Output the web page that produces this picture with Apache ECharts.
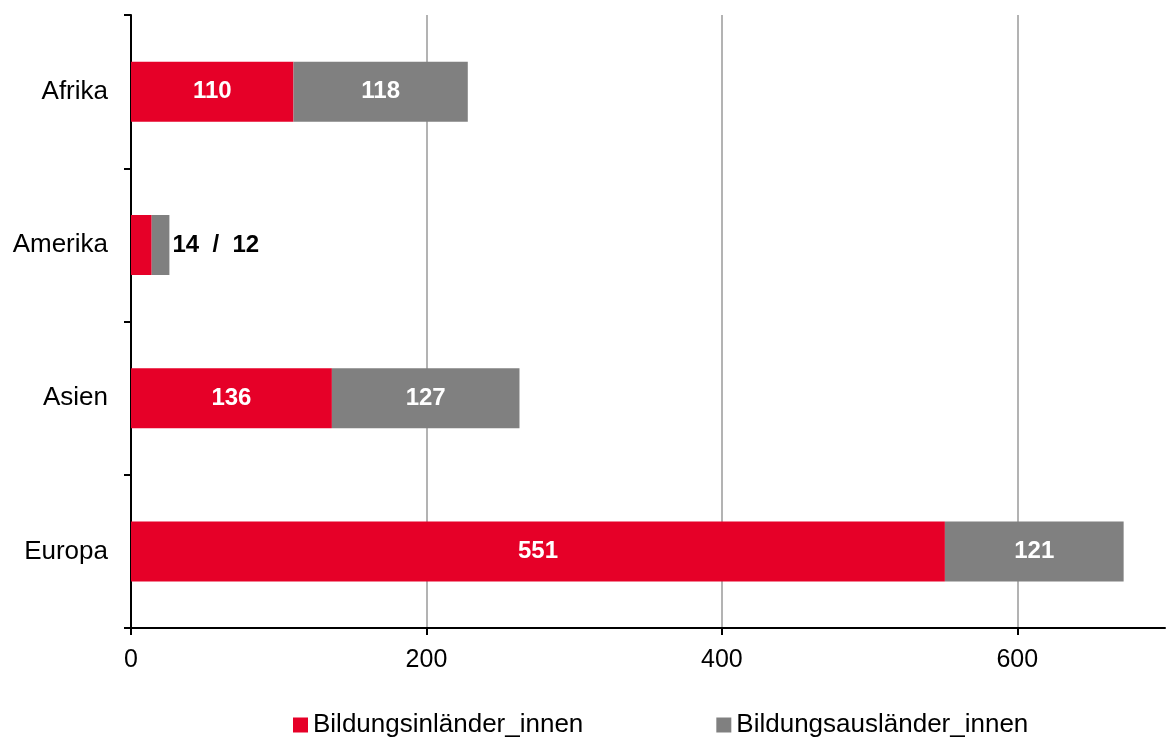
<!DOCTYPE html>
<html>
<head>
<meta charset="utf-8">
<script src="https://cdn.jsdelivr.net/npm/echarts@6/dist/echarts.min.js"></script>
<style>
  html, body { margin: 0; padding: 0; background: #fff; }
  #chart { width: 1167px; height: 738px; }
</style>
</head>
<body>
<div id="chart"></div>
<script>
const regions = ['Afrika', 'Amerika', 'Asien', 'Europa'];
const inlaender = [110, 14, 136, 551];
const auslaender = [118, 12, 127, 121];
const xTicks = [0, 200, 400, 600];

const chart = echarts.init(document.getElementById('chart'));
const font = 'Liberation Sans, Arial, sans-serif';

// Amerika is too narrow for inside labels: one combined label to the right
const smallIdx = 1;

const insideLabel = {
  show: true,
  position: 'inside',
  color: '#fff',
  fontWeight: 'bold',
  fontSize: 24,
  fontFamily: font
};

const option = {
  animation: false,
  grid: { left: 131, right: 2, top: 15, bottom: 110, containLabel: false },
  legend: {
    left: 288,
    top: 707,
    icon: 'rect',
    itemWidth: 15,
    itemHeight: 15,
    itemGap: 133,
    textStyle: { fontSize: 26, color: '#000', fontFamily: font },
    data: ['Bildungsinländer_innen', 'Bildungsausländer_innen']
  },
  xAxis: {
    type: 'value',
    min: 0,
    max: 700,
    interval: 200,
    axisLine: { show: true, lineStyle: { color: '#000', width: 2 } },
    axisTick: { show: true, length: 7, customValues: xTicks, lineStyle: { color: '#000', width: 2 } },
    axisLabel: { customValues: xTicks, color: '#000', fontSize: 25, fontFamily: font, margin: 20 },
    splitLine: {
      show: true,
      showMinLine: false,
      lineStyle: { color: '#b3b3b3', width: 2 }
    }
  },
  yAxis: {
    type: 'category',
    inverse: true,
    data: regions,
    axisLine: { show: true, lineStyle: { color: '#000', width: 2 } },
    axisTick: { show: true, length: 7, inside: false, lineStyle: { color: '#000', width: 2 } },
    axisLabel: { color: '#000', fontSize: 26, fontFamily: font, margin: 23 },
    splitLine: { show: false }
  },
  series: [
    {
      name: 'Bildungsinländer_innen',
      type: 'bar',
      stack: 'total',
      barWidth: 60,
      itemStyle: { color: '#E60028' },
      label: insideLabel,
      data: inlaender.map((v, i) => i === smallIdx ? { value: v, label: { show: false } } : v)
    },
    {
      name: 'Bildungsausländer_innen',
      type: 'bar',
      stack: 'total',
      barWidth: 60,
      itemStyle: { color: '#808080' },
      label: insideLabel,
      data: auslaender.map((v, i) => i === smallIdx ? {
        value: v,
        label: {
          show: true,
          position: 'right',
          distance: 3,
          color: '#000',
          fontWeight: 'bold',
          fontSize: 24,
          fontFamily: font,
          formatter: inlaender[i] + '  /  ' + v
        }
      } : v)
    }
  ]
};

chart.setOption(option);
</script>
</body>
</html>
